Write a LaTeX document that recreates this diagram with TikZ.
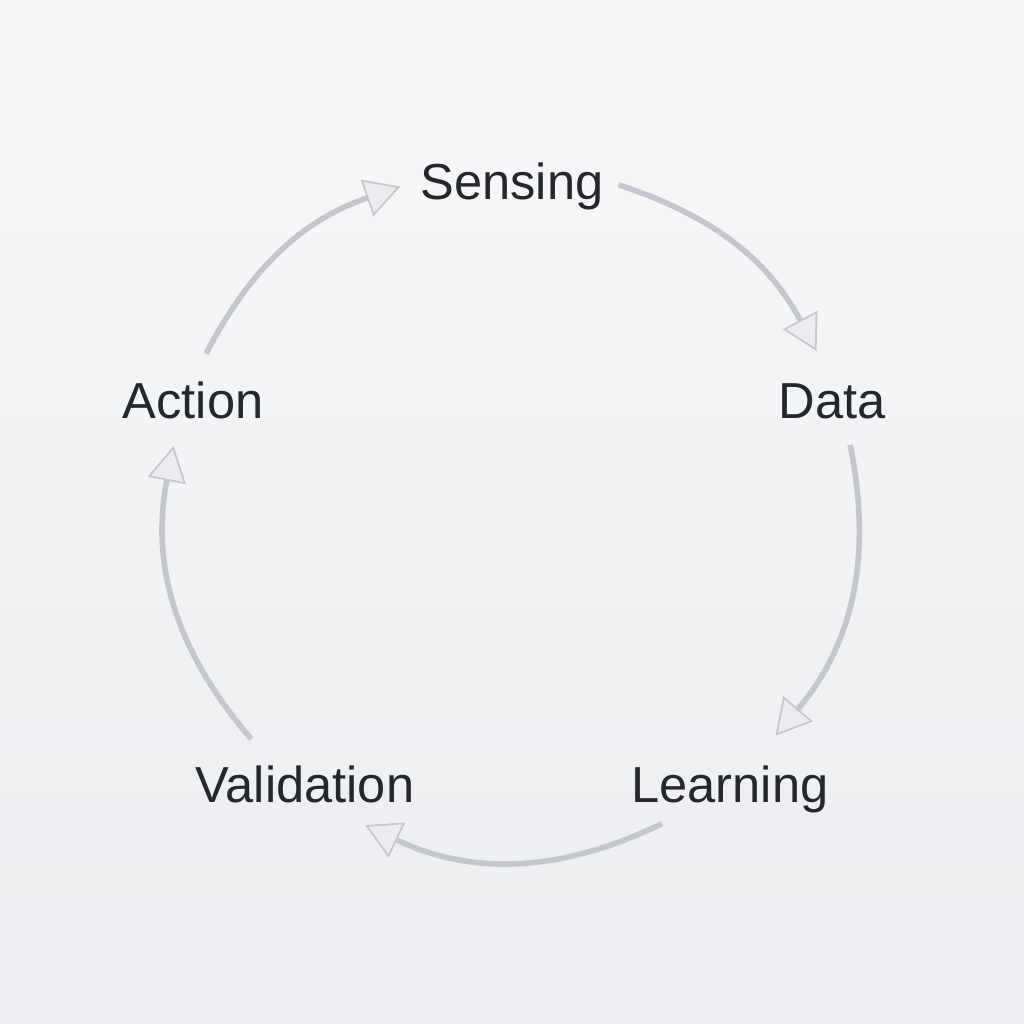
\documentclass[tikz,border=0pt]{standalone}
\usepackage{fontspec}
\setmainfont{Liberation Sans}
\usetikzlibrary{arrows.meta}
\definecolor{bgtop}{HTML}{F8F8F9}
\definecolor{bgbottom}{HTML}{ECEDF0}
\definecolor{edgeline}{HTML}{C4C7CD}
\definecolor{edgefill}{HTML}{EBECEF}
\definecolor{labeltext}{HTML}{23272E}
\tikzset{
  stage/.style={anchor=base, text=labeltext, font=\fontsize{14.4}{17}\selectfont, inner sep=0pt},
  flow/.style={draw=edgeline, line width=1.6pt,
    -{Triangle[width=11pt,length=10pt,fill=edgefill,line width=0.5pt]},
    postaction={draw=edgefill, line width=0.7pt, -, shorten >=10pt}}
}
\begin{document}
\begin{tikzpicture}
      \shade[shading angle=135, top color=bgtop, bottom color=bgbottom] (-5.12,-5.11) rectangle (5.12,5.13);
      \useasboundingbox (-5.12,-5.11) rectangle (5.12,5.13);
      \draw
        (0,3.14) node[stage] (sensing){Sensing}
        (3.20,0.95) node[stage] (data){Data}
        (2.18,-2.89) node[stage] (learning){Learning}
        (-2.07,-2.89) node[stage] (validation){Validation}
        (-3.19,0.95) node[stage] (action){Action};
      % arc ends on the circle
      \coordinate (sd0) at (72:3.45);
      \coordinate (sd1) at (28:3.45);
      \coordinate (dl0) at (11.4:3.45);
      \coordinate (dl1) at (-40.2:3.45);
      \coordinate (lv0) at (-64.2:3.45);
      \coordinate (lv1) at (-115.2:3.45);
      \coordinate (va0) at (-139.1:3.45);
      \coordinate (va1) at (-191.2:3.45);
      \coordinate (as0) at (152.5:3.45);
      \coordinate (as1) at (108.9:3.45);
      \begin{scope}[flow]
        \draw (sd0) to[bend left=22] (sd1);
        \draw (dl0) to[bend left=25.8] (dl1);
        \draw (lv0) to[bend left=25.5] (lv1);
        \draw (va0) to[bend left=26] (va1);
        \draw (as0) to[bend left=21.8] (as1);
      \end{scope}
    \end{tikzpicture}
\end{document}
